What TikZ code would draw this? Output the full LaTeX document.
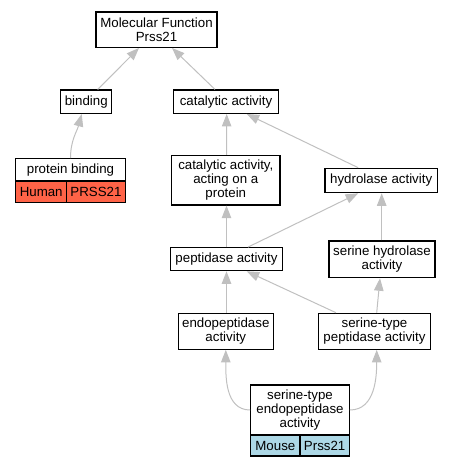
\documentclass[tikz,border=0pt]{standalone}
\usepackage{fontspec}
\setmainfont{Liberation Sans}
\usetikzlibrary{arrows.meta}
\definecolor{tomatoc}{HTML}{FF6347}
\definecolor{lblue}{HTML}{ADD8E6}
\definecolor{edgec}{HTML}{C0C0C0}
\begin{document}
\begin{tikzpicture}[x=1pt,y=-1pt,
  box/.style={draw=black, line width=1.2pt, fill=white, inner sep=0pt, align=center,
    font=\fontsize{13.3}{13.7}\selectfont},
  cell/.style={box},
  edge/.style={draw=edgec, line width=1pt, -{Triangle[length=12.5pt,width=9.5pt]}}]
\useasboundingbox (0,0) rectangle (453,467);
% nodes
\node[box, minimum width=121pt, minimum height=35.3pt] (mf) at (156.5,29.7) {Molecular Function\\Prss21};
\node[box, minimum width=51pt, minimum height=23.3pt] (bind) at (86.3,101.7) {binding};
\node[box, minimum width=105.7pt, minimum height=23.3pt] (cat) at (226,101.7) {catalytic activity};
\node[box, minimum width=109.6pt, minimum height=22.3pt] (pb) at (70.5,169.85) {protein binding};
\node[cell, fill=tomatoc, minimum width=51pt, minimum height=21.7pt] (pbh) at (41.2,191.85) {Human};
\node[cell, fill=tomatoc, minimum width=58.6pt, minimum height=21.7pt] (pbg) at (96,191.85) {PRSS21};
\node[box, minimum width=108.3pt, minimum height=49.7pt] (caop) at (225.8,180.2) {catalytic activity,\\acting on a\\protein};
\node[box, minimum width=112.3pt, minimum height=24.4pt] (hyd) at (381.2,180.5) {hydrolase activity};
\node[box, minimum width=112.4pt, minimum height=23pt] (pep) at (226.5,259.2) {peptidase activity};
\node[box, minimum width=106pt, minimum height=36.7pt] (sh) at (382,259.3) {serine hydrolase\\activity};
\node[box, minimum width=95pt, minimum height=36pt] (endo) at (225.8,331.3) {endopeptidase\\activity};
\node[box, minimum width=112.4pt, minimum height=36pt] (stp) at (374.5,331.3) {serine-type\\peptidase activity};
\node[box, minimum width=98.6pt, minimum height=50pt] (ste) at (300,410) {serine-type\\endopeptidase\\activity};
\node[cell, fill=lblue, minimum width=49.3pt, minimum height=21pt] (stem) at (275.35,445.5) {Mouse};
\node[cell, fill=lblue, minimum width=49.3pt, minimum height=21pt] (steg) at (324.65,445.5) {Prss21};
% edges
\draw[edge] ([xshift=11.4pt]bind.north) -- ([xshift=-17.5pt]mf.south);
\draw[edge] ([xshift=-11pt]cat.north) -- ([xshift=15.5pt]mf.south);
\draw[edge] (pb.north) to[out=90,in=-105] ([xshift=-4.6pt]bind.south);
\draw[edge] ([xshift=0.7pt]caop.north) -- ([xshift=0.7pt]cat.south);
\draw[edge] ([xshift=-23pt]hyd.north) -- ([xshift=20.7pt]cat.south);
\draw[edge] (pep.north) -- ([xshift=0.7pt]caop.south);
\draw[edge] ([xshift=21.5pt]pep.north) -- ([xshift=-23pt]hyd.south);
\draw[edge] ([xshift=-0.3pt]sh.north) -- ([xshift=0.5pt]hyd.south);
\draw[edge] ([xshift=0.7pt]endo.north) -- (pep.south);
\draw[edge] ([xshift=-38.5pt]stp.north) -- ([xshift=20.2pt]pep.south);
\draw[edge] ([xshift=2.2pt]stp.north) -- ([xshift=-2pt]sh.south);
\draw[edge] (ste.west) to[out=180,in=-90] (endo.south);
\draw[edge] (ste.east) to[out=0,in=-90] ([xshift=2.2pt]stp.south);
\end{tikzpicture}
\end{document}
